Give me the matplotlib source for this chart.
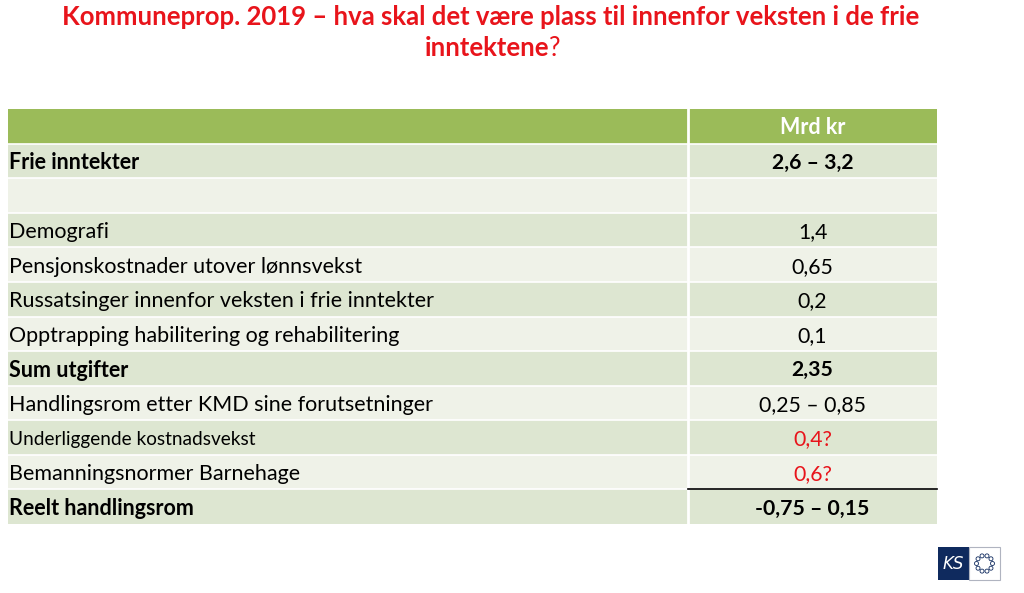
import matplotlib.pyplot as plt
from matplotlib.patches import Rectangle, Circle
import numpy as np

# table content
header = "Mrd kr"
labels = ["Frie inntekter", "", "Demografi", "Pensjonskostnader utover lønnsvekst",
          "Russatsinger innenfor veksten i frie inntekter",
          "Opptrapping habilitering og rehabilitering", "Sum utgifter",
          "Handlingsrom etter KMD sine forutsetninger", "Underliggende kostnadsvekst",
          "Bemanningsnormer Barnehage", "Reelt handlingsrom"]
values = ["2,6 – 3,2", "", "1,4", "0,65", "0,2", "0,1", "2,35", "0,25 – 0,85",
          "0,4?", "0,6?", "-0,75 – 0,15"]
bold_rows = [0, 6, 10]
red_rows = [8, 9]
small_rows = [8]

GREEN = "#9bbb59"
DARK = "#dde6d1"
LIGHT = "#eff2e8"
RED = "#e8141b"

fig = plt.figure(figsize=(10.24, 5.93), dpi=100)
ax = fig.add_axes([0, 0, 1, 1])
ax.set_xlim(0, 1024)
ax.set_ylim(593, 0)
ax.axis("off")
plt.rcParams["font.family"] = ["Lato", "DejaVu Sans"]

# title
ax.text(491, 17, "Kommuneprop. 2019 – hva skal det være plass til innenfor veksten i de frie",
        ha="center", va="center", fontsize=18.5, fontweight="bold", color=RED)
ax.text(549, 48, "inntektene", ha="right", va="center", fontsize=18.5,
        fontweight="bold", color=RED)
ax.text(549, 48, "?", ha="left", va="center", fontsize=18.5, color=RED)

x0, xs, x1 = 8, 688, 937
top = 109
rh = (524 - 109) / 12

# header row
ax.add_patch(Rectangle((x0, top), x1 - x0, rh, color=GREEN, lw=0))
ax.text((xs + x1) / 2, top + rh / 2 + 1.5, header, ha="center", va="center",
        fontsize=15.5, fontweight="bold", color="white")

for i, (lab, val) in enumerate(zip(labels, values)):
    y = top + rh * (i + 1)
    ax.add_patch(Rectangle((x0, y), x1 - x0, rh, color=DARK if i % 2 == 0 else LIGHT, lw=0))
    ax.plot([x0, x1], [y, y], color="white", lw=1.2)
    fw = "bold" if i in bold_rows else "normal"
    fs = 13.7 if i in small_rows else 15.5
    col = RED if i in red_rows else "black"
    ax.text(x0 + 1, y + rh / 2 + 2, lab, ha="left", va="center", fontsize=fs,
            fontweight=fw, color="black")
    ax.text((xs + x1) / 2, y + rh / 2 + 2, val, ha="center", va="center", fontsize=15.3,
            fontweight=fw, color=col)

# column separator
ax.plot([xs, xs], [top, 524], color="white", lw=2)
# line above last row in value column
ax.plot([xs, x1], [top + rh * 11, top + rh * 11], color="black", lw=1.2)

# KS logo
ax.add_patch(Rectangle((938, 547), 31, 33, color="#0f2a5e", lw=0))
ax.add_patch(Rectangle((969, 547), 31, 33, facecolor="white", edgecolor="#b0b4c0", lw=0.8))
ax.text(953.5, 564, "KS", ha="center", va="center", fontsize=12, color="white",
        style="italic", family=["DejaVu Sans"])
ang = np.linspace(0, 2 * np.pi, 11)[:-1]
for a in ang:
    ax.add_patch(Circle((984.5 + 8 * np.cos(a), 563.5 + 8 * np.sin(a)), 2.0,
                        facecolor="white", edgecolor="#0f2a5e", lw=0.6))

plt.savefig("out.png", dpi=100)
plt.close()
